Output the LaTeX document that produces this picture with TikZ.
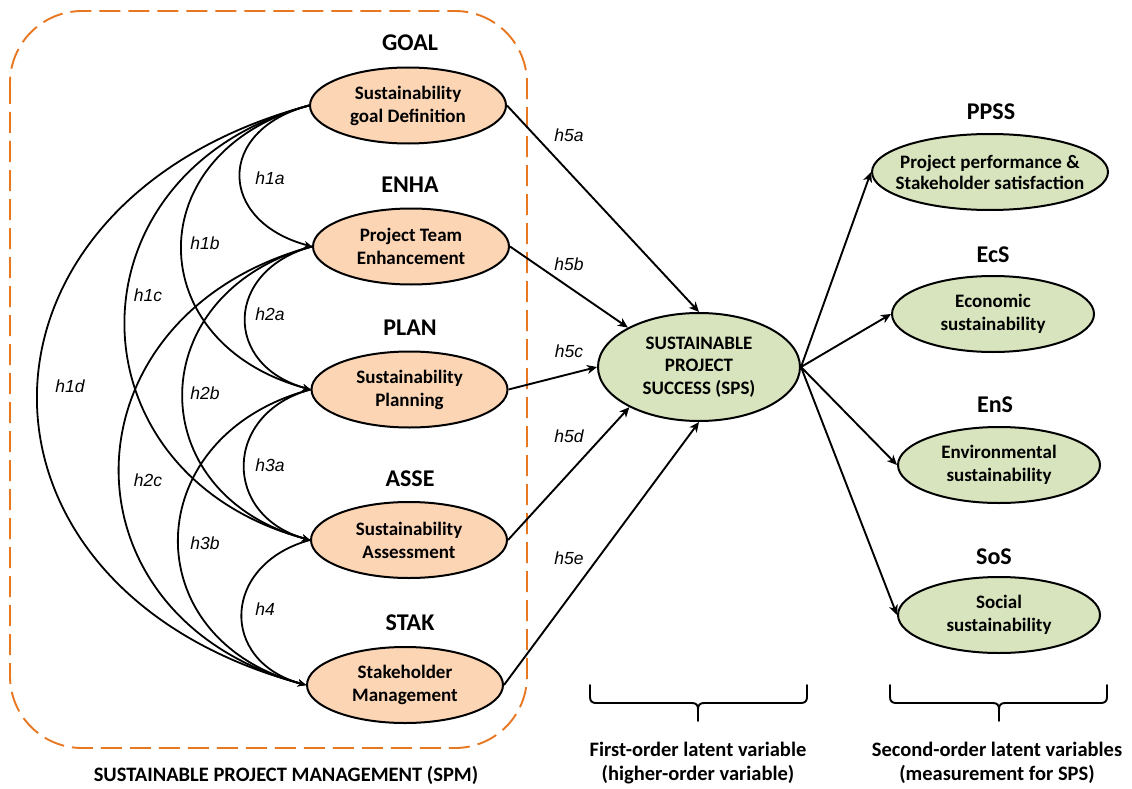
\documentclass[tikz,border=0pt]{standalone}
\usepackage{fontspec}
\setmainfont{Carlito}
\newfontfamily\hfont{Liberation Sans}
\usetikzlibrary{arrows.meta,shapes.geometric,calc}
\definecolor{peach}{HTML}{FCD5B5}
\definecolor{sage}{HTML}{D7E4BD}
\definecolor{spmorange}{HTML}{E87722}

\begin{document}
\begin{tikzpicture}[x=1pt,y=-1pt,
  lat/.style={ellipse, draw=black, line width=2pt, inner sep=0pt},
  spmvar/.style={lat, fill=peach, minimum width=196pt, minimum height=76pt},
  spsvar/.style={lat, fill=sage, minimum width=202pt, minimum height=108pt},
  outvar/.style={lat, fill=sage, minimum width=202pt, minimum height=76pt},
  etxt/.style={align=center, inner sep=0pt, font=\fontsize{19}{23}\selectfont\bfseries},
  head/.style={inner sep=0pt, font=\fontsize{24}{28}\selectfont\bfseries},
  hlab/.style={inner sep=0pt, font=\fontsize{17.5}{20}\selectfont\hfont\itshape},
  btxt/.style={align=center, inner sep=0pt, font=\fontsize{20.5}{24}\selectfont\bfseries},
  corr/.style={line width=1.8pt, -{Stealth[length=8pt,width=7pt]}},
  path/.style={line width=1.9pt, -{Stealth[length=10pt,width=9pt,inset=3pt]}},
  brace/.style={line width=1.9pt, line cap=round, line join=round}
]
\useasboundingbox (0,0) rectangle (1132,789);

% dashed frame around the SPM constructs
\draw[spmorange, line width=1.9pt, dash pattern=on 21pt off 8pt, rounded corners=72pt]
  (10,11) rectangle (527,748);

% first-order constructs (SPM)
\node[spmvar] (goal) at (408,105.5) {};
\node[spmvar] (enha) at (411,246.5) {};
\node[spmvar] (plan) at (409.5,389.5) {};
\node[spmvar] (asse) at (409,540) {};
\node[spmvar] (stak) at (405,685) {};
\node[etxt] (goal-t) at (goal) {Sustainability\\goal Definition};
\node[etxt] (enha-t) at (enha) {Project Team\\Enhancement};
\node[etxt] (plan-t) at (plan) {Sustainability\\Planning};
\node[etxt] (asse-t) at (asse) {Sustainability\\Assessment};
\node[etxt] (stak-t) at (stak) {Stakeholder\\Management};
\node[head] (goal-h) at (410,43) {GOAL};
\node[head] (enha-h) at (410,185) {ENHA};
\node[head] (plan-h) at (410,328) {PLAN};
\node[head] (asse-h) at (410,479) {ASSE};
\node[head] (stak-h) at (410,623) {STAK};

% higher-order construct
\node[spsvar] (sps) at (699,367) {};
\node[etxt, font=\fontsize{19}{22.5}\selectfont\bfseries] (sps-t) at (sps) {SUSTAINABLE\\PROJECT\\SUCCESS (SPS)};

% second-order measurement constructs
\node[outvar, minimum width=236pt] (ppss) at (990,172) {};
\node[outvar] (ecs) at (993,314) {};
\node[outvar] (ens) at (999,465) {};
\node[outvar] (sos) at (999,615) {};
\node[etxt, font=\fontsize{19}{21}\selectfont\bfseries] (ppss-t) at (ppss) {Project performance \&\\Stakeholder satisfaction};
\node[etxt] (ecs-t) at (ecs) {Economic\\sustainability};
\node[etxt] (ens-t) at (ens) {Environmental\\sustainability};
\node[etxt] (sos-t) at (sos) {Social\\sustainability};
\node[head] (ppss-h) at (991,112) {PPSS};
\node[head] (ecs-h) at (993,255) {EcS};
\node[head] (ens-h) at (995,405) {EnS};
\node[head] (sos-h) at (994,557) {SoS};

% correlations among the SPM constructs
\draw[corr] (goal.west) .. controls ($(goal.west)+(-94,25)$) and ($(enha.west)+(-94,-25)$) .. (enha.west);
\draw[corr] (enha.west) .. controls ($(enha.west)+(-88,24)$) and ($(plan.west)+(-88,-24)$) .. (plan.west);
\draw[corr] (plan.west) .. controls ($(plan.west)+(-88,24)$) and ($(asse.west)+(-88,-24)$) .. (asse.west);
\draw[corr] (asse.west) .. controls ($(asse.west)+(-88,24)$) and ($(stak.west)+(-88,-24)$) .. (stak.west);
\draw[corr] (goal.west) .. controls ($(goal.west)+(-171,46)$) and ($(plan.west)+(-171,-46)$) .. (plan.west);
\draw[corr] (enha.west) .. controls ($(enha.west)+(-171,46)$) and ($(asse.west)+(-171,-46)$) .. (asse.west);
\draw[corr] (plan.west) .. controls ($(plan.west)+(-173,46)$) and ($(stak.west)+(-173,-46)$) .. (stak.west);
\draw[corr] (goal.west) .. controls ($(goal.west)+(-246,66)$) and ($(asse.west)+(-246,-66)$) .. (asse.west);
\draw[corr] (enha.west) .. controls ($(enha.west)+(-253,68)$) and ($(stak.west)+(-253,-68)$) .. (stak.west);
\draw[corr] (goal.west) .. controls ($(goal.west)+(-360,97)$) and ($(stak.west)+(-360,-97)$) .. (stak.west);

\node[hlab] (h1a) at (270,178) {h1a};
\node[hlab] (h1b) at (205,243) {h1b};
\node[hlab] (h1c) at (148,295) {h1c};
\node[hlab] (h1d) at (70,386) {h1d};
\node[hlab] (h2a) at (270,314) {h2a};
\node[hlab] (h2b) at (205,393) {h2b};
\node[hlab] (h2c) at (148,480) {h2c};
\node[hlab] (h3a) at (270,465) {h3a};
\node[hlab] (h3b) at (205,543) {h3b};
\node[hlab] (h4) at (265,609) {h4};

% structural paths to SPS
\draw[path] (goal.east) -- (sps.north);
\draw[path] (enha.east) -- (sps.151);
\draw[path] (plan.east) -- (sps.west);
\draw[path] (asse.east) -- (sps.210);
\draw[path] (stak.east) -- (sps.south);
\node[hlab] (h5a) at (569,135) {h5a};
\node[hlab] (h5b) at (569,264) {h5b};
\node[hlab] (h5c) at (569,351) {h5c};
\node[hlab] (h5d) at (569,436) {h5d};
\node[hlab] (h5e) at (569,558) {h5e};

% measurement paths
\draw[path] (sps.east) -- (ppss.west);
\draw[path] (sps.east) -- (ecs.west);
\draw[path] (sps.east) -- (ens.west);
\draw[path] (sps.east) -- (sos.west);

% braces and captions
\draw[brace] (590,685) -- (590,697) .. controls (590,701) and (592,703) .. (596,703) -- (692,703)
  .. controls (696,703) and (698,705) .. (698,709) -- (698,721);
\draw[brace] (807,685) -- (807,697) .. controls (807,701) and (805,703) .. (801,703) -- (704,703)
  .. controls (700,703) and (698,705) .. (698,709);
\draw[brace] (890,685) -- (890,697) .. controls (890,701) and (892,703) .. (896,703) -- (993,703)
  .. controls (997,703) and (999,705) .. (999,709) -- (999,721);
\draw[brace] (1107,685) -- (1107,697) .. controls (1107,701) and (1105,703) .. (1101,703) -- (1005,703)
  .. controls (1001,703) and (999,705) .. (999,709);

\node[btxt] (spm-t) at (286,775) {SUSTAINABLE PROJECT MANAGEMENT (SPM)};
\node[btxt] (fo-t) at (698,763) {First-order latent variable\\(higher-order variable)};
\node[btxt] (so-t) at (997,763) {Second-order latent variables\\(measurement for SPS)};
\end{tikzpicture}
\end{document}
